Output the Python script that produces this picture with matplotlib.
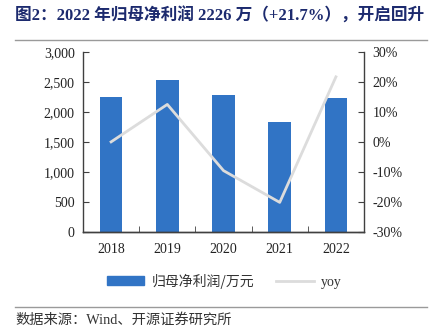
import matplotlib
matplotlib.use("Agg")
import matplotlib.pyplot as plt
from matplotlib.lines import Line2D
from matplotlib.patches import Patch
from matplotlib.ticker import FuncFormatter

years = ["2018", "2019", "2020", "2021", "2022"]
profit = [2250, 2533, 2290, 1828, 2226]
yoy = [0.0, 12.5, -9.6, -20.2, 21.7]

bar_color = "#3174c5"
line_color = "#dcdcdc"
serif = ["Liberation Serif", "Noto Sans CJK SC"]
cjk = ["Noto Sans CJK SC", "DejaVu Sans"]

fig = plt.figure(figsize=(4.31, 3.32), dpi=100)
ax = fig.add_axes([0.1926, 0.302, 0.652, 0.5414])
ax2 = ax.twinx()

x = list(range(len(years)))
ax.bar(x, profit, width=0.4, color=bar_color, zorder=2)
ax2.plot(x, yoy, color=line_color, linewidth=2.0, zorder=3)

ax.set_xlim(-0.5, len(years) - 0.5)
ax.set_ylim(0, 3000)
ax.set_yticks(range(0, 3001, 500))
ax.yaxis.set_major_formatter(FuncFormatter(lambda v, p: f"{int(v):,}"))
ax2.set_ylim(-30, 30)
ax2.set_yticks(range(-30, 31, 10))
ax2.yaxis.set_major_formatter(FuncFormatter(lambda v, p: f"{int(v)}%"))

ax.set_xticks(x)
ax.set_xticklabels(years)
ax.set_xticks([i + 0.5 for i in x[:-1]], minor=True)
ax.tick_params(axis="x", which="major", length=0, pad=8)
ax.tick_params(axis="x", which="minor", direction="in", length=4, color="#404040")
ax.tick_params(axis="y", direction="in", length=4, color="#404040", pad=6)
ax2.tick_params(axis="y", direction="in", length=4, color="#404040", pad=6)

for a in (ax, ax2):
    a.spines["top"].set_visible(False)
    for s in a.spines.values():
        s.set_color("#404040")
        s.set_linewidth(1.0)
    for lab in a.get_yticklabels() + a.get_xticklabels():
        lab.set_fontfamily(serif)
        lab.set_fontsize(10)
        lab.set_color("#222222")
ax.spines["right"].set_visible(False)
ax2.spines["left"].set_visible(False)
ax.set_zorder(ax2.get_zorder() - 1)
ax2.patch.set_visible(False)

handles = [Patch(color=bar_color), Line2D([0], [0], color=line_color, linewidth=2.0)]
leg = fig.legend(handles, ["归母净利润/万元", "yoy"], loc="center", bbox_to_anchor=(0.52, 0.153),
                 ncol=2, frameon=False, handlelength=2.7, handleheight=0.6, columnspacing=1.6,
                 handletextpad=0.5, prop={"family": cjk, "size": 10})
for t in leg.get_texts():
    t.set_color("#333333")
leg.get_texts()[1].set_fontfamily(serif)

fig.text(0.035, 0.952, "图2：2022 年归母净利润 2226 万（+21.7%），开启回升", fontsize=12,
         fontweight="bold", color="#1c2a6e", family=serif, va="center", ha="left")
fig.add_artist(Line2D([0.035, 0.99], [0.881, 0.881], color="#9a9a9a", linewidth=1.0))
fig.add_artist(Line2D([0.035, 0.99], [0.076, 0.076], color="#9a9a9a", linewidth=1.0))
fig.text(0.035, 0.035, "数据来源：Wind、开源证券研究所", fontsize=10.3, color="#333333",
         family=serif, va="center", ha="left")

plt.savefig("out.png", dpi=100)
